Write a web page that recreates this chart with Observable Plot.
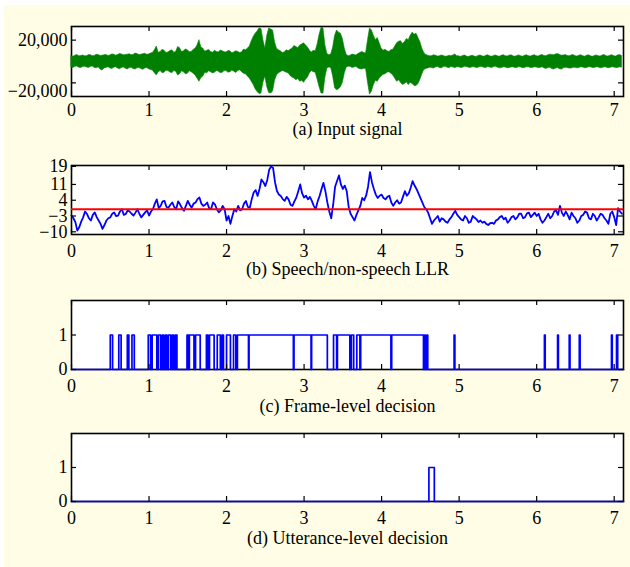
<!DOCTYPE html>
<html><head><meta charset="utf-8">
<script src="https://cdn.jsdelivr.net/npm/d3@7"></script>
<script src="https://cdn.jsdelivr.net/npm/@observablehq/plot@0.6"></script>
<style>
html,body{margin:0;padding:0;background:#fff;width:630px;height:567px;overflow:hidden;}
#bg{position:absolute;left:4px;top:5px;width:626px;height:562px;background:#fffde5;}
.panel{position:absolute;left:0;}
</style></head><body>
<div id="bg"></div>
<div id="pa" class="panel"></div>
<div id="pb" class="panel"></div>
<div id="pc" class="panel"></div>
<div id="pd" class="panel"></div>
<script>
// ---------- data ----------
const sampleStep = 0.025; // seconds between envelope / LLR samples
const xTicks = [0, 1, 2, 3, 4, 5, 6, 7];
const xMax = 7.12;

// (a) input signal envelope, thousands
const signalUpperK = [
  5.0,4.4,5.5,6.0,4.8,5.2,5.6,4.9,5.0,6.1,5.8,5.0,5.2,6.3,6.0,5.1,5.4,5.8,6.2,5.2,5.6,6.6,6.4,5.5,6.0,7.0,6.6,5.8,6.0,6.4,6.8,5.9,6.2,7.4,7.0,6.0,6.4,6.9,7.2,6.3,
  6.6,7.4,8.0,10.5,14.0,8.0,9.0,11.0,10.0,8.0,8.5,9.8,10.5,8.2,9.0,13.5,12.5,8.8,9.5,11.2,10.5,8.6,9.0,10.8,12.0,15.0,20.0,13.0,12.0,9.2,10.0,10.8,9.0,8.2,10.0,9.0,8.5,10.2,9.5,8.6,
  8.5,9.8,9.5,7.8,8.5,9.6,9.0,8.0,8.5,11.2,10.5,12.0,14.0,19.0,23.0,26.0,28.0,31.0,30.5,20.0,12.0,24.0,31.0,30.0,29.0,18.0,12.0,10.5,9.5,8.0,8.5,10.5,9.5,11.0,12.0,14.5,13.5,12.5,15.0,16.0,
  17.0,15.0,13.0,10.0,8.5,10.0,9.5,16.0,25.0,31.5,31.0,15.0,7.0,5.8,6.5,13.0,24.0,29.0,27.0,26.0,21.0,12.0,6.0,5.0,5.5,6.5,6.0,5.6,7.0,8.0,9.0,8.0,7.5,20.0,31.0,29.0,24.0,20.0,22.0,17.0,
  12.0,10.0,11.0,9.5,9.0,10.5,11.0,14.0,17.0,18.5,19.0,16.5,18.0,21.0,20.0,24.0,27.0,25.0,26.0,22.0,18.0,12.0,8.0,6.2,5.5,4.8,5.0,5.8,5.5,4.6,4.8,5.6,5.2,4.5,4.6,5.4,5.0,5.6,6.5,5.0,
  4.8,4.3,5.2,5.6,4.6,4.2,5.0,5.5,4.6,4.3,5.2,5.7,4.8,4.4,5.4,5.8,4.8,4.4,5.2,5.6,4.8,4.5,5.4,5.9,5.0,4.6,5.4,5.8,4.8,4.4,5.2,5.7,4.8,4.5,5.4,5.8,5.0,4.6,5.4,5.9,
  5.0,4.6,5.6,6.0,5.2,4.9,5.8,6.4,6.2,5.8,6.6,7.0,6.0,5.5,5.6,6.0,5.2,4.8,5.6,6.0,5.0,4.6,5.4,5.9,5.0,4.5,5.4,5.8,4.8,4.4,5.2,5.7,5.0,4.6,5.6,6.0,5.0,4.6,5.4,5.9,
  5.0,4.6,5.6,6.0,5.2
];
const signalLowerK = [
  -5.5,-6.0,-5.0,-4.6,-5.8,-6.2,-5.2,-4.8,-5.6,-6.1,-5.0,-4.7,-6.0,-6.4,-5.4,-7.5,-8.5,-6.5,-6.0,-5.4,-6.4,-7.0,-5.8,-5.4,-6.6,-7.2,-6.0,-5.5,-6.8,-7.4,-6.2,-5.8,-7.0,-7.6,-6.4,-6.0,-7.0,-7.8,-6.6,-6.2,
  -7.2,-8.0,-8.5,-11.0,-13.0,-10.0,-9.0,-11.0,-10.5,-8.6,-9.0,-10.2,-11.0,-9.0,-9.5,-13.0,-12.0,-9.2,-10.0,-12.0,-11.5,-9.2,-10.0,-11.5,-13.0,-16.0,-19.0,-15.5,-14.0,-10.5,-11.0,-9.2,-10.0,-11.2,-10.5,-8.8,-9.5,-11.0,-10.5,-9.0,
  -9.0,-10.5,-10.0,-8.4,-9.5,-10.8,-9.0,-8.2,-10.0,-11.5,-12.0,-14.0,-16.0,-19.0,-22.0,-26.0,-28.5,-30.5,-30.0,-20.0,-14.0,-24.0,-29.5,-30.0,-28.0,-18.0,-13.0,-11.0,-10.0,-8.8,-9.5,-10.5,-11.0,-13.5,-15.0,-16.0,-17.5,-16.5,-19.0,-18.0,
  -20.0,-17.0,-15.0,-11.0,-9.0,-10.0,-10.5,-17.0,-24.0,-30.0,-30.0,-15.0,-6.5,-5.6,-6.0,-14.0,-25.0,-27.0,-26.0,-24.0,-20.0,-11.0,-5.5,-4.8,-5.0,-6.0,-5.5,-5.0,-6.5,-7.2,-7.5,-6.8,-7.0,-20.0,-31.0,-28.0,-22.0,-18.0,-19.0,-16.0,
  -14.0,-12.5,-12.0,-10.5,-10.0,-11.5,-13.0,-16.0,-19.0,-17.5,-20.0,-22.0,-21.0,-19.5,-22.0,-20.0,-21.0,-23.0,-23.0,-21.0,-17.0,-12.0,-8.0,-7.0,-6.5,-5.8,-6.0,-6.6,-5.5,-5.0,-6.0,-6.5,-5.2,-4.8,-5.8,-6.3,-5.0,-5.6,-6.2,-5.4,
  -5.4,-6.0,-5.8,-5.0,-5.2,-5.8,-6.0,-5.3,-5.4,-6.1,-5.8,-5.0,-5.2,-5.9,-6.0,-5.2,-5.6,-6.2,-5.2,-4.8,-5.8,-6.4,-6.2,-5.4,-5.6,-6.3,-6.2,-5.5,-5.4,-6.1,-6.0,-5.2,-5.6,-6.3,-6.0,-5.3,-5.4,-6.0,-6.2,-5.4,
  -5.6,-6.2,-6.0,-5.4,-6.4,-7.0,-6.2,-5.8,-7.0,-7.5,-6.6,-6.2,-7.2,-7.6,-6.4,-5.9,-6.0,-6.6,-6.6,-5.8,-5.8,-6.4,-6.2,-5.4,-5.6,-6.3,-6.0,-5.3,-5.4,-6.1,-6.0,-5.3,-5.6,-6.3,-6.2,-5.4,-5.6,-6.3,-6.0,-5.4,
  -5.6,-6.2,-6.0,-5.4,-5.8
];
const signalTicks = [-20000, 20000];
const signalDomain = [-32768, 32768];

// (b) speech / non-speech LLR
const llrValues = [
  -2.8,-4.0,-5.7,-9.5,-8.0,-5.5,-3.6,-1.0,-2.1,-4.0,-5.0,-2.5,-1.4,-3.5,-5.0,-6.5,-8.7,-7.0,-5.0,-4.0,-3.6,-2.0,-1.4,-3.0,-2.8,-1.0,0.0,-2.5,-2.1,-0.5,-1.0,-2.0,-2.8,-1.5,0.0,-2.0,-3.6,-2.5,-1.4,-0.5,
  -2.8,-1.0,0.0,2.5,4.4,0.5,1.5,3.5,3.7,1.0,0.7,2.0,3.0,1.0,0.0,3.5,2.2,0.5,-0.7,1.5,3.7,2.0,0.7,2.5,3.0,4.5,5.2,2.5,1.5,2.0,3.0,0.5,0.0,3.0,2.2,0.0,-1.4,-0.5,1.5,0.0,
  -5.0,-3.0,-6.5,-3.0,0.0,-1.0,1.5,-0.5,0.0,2.5,3.7,1.0,0.7,4.5,7.4,8.5,5.9,9.0,13.2,12.0,10.3,13.0,17.5,19.0,18.3,12.0,8.1,6.5,5.9,4.5,3.7,5.5,4.4,2.0,1.5,3.5,5.2,8.0,11.0,7.0,
  5.2,6.0,4.4,5.5,3.7,1.5,0.0,3.5,5.9,9.0,11.7,8.0,3.0,-1.0,-4.0,2.0,10.0,12.5,15.0,11.0,9.0,10.5,8.0,1.0,-2.0,-3.5,-5.0,-2.5,-0.5,1.5,5.0,4.0,6.0,10.0,16.5,12.0,9.0,6.5,5.0,6.0,
  6.5,5.0,4.4,5.5,6.0,3.0,1.5,3.0,4.0,2.5,3.0,5.5,8.0,6.0,7.0,9.5,12.5,10.5,9.0,7.0,5.0,3.0,1.0,0.0,-1.5,-4.0,-6.5,-5.0,-4.0,-3.0,-5.5,-4.0,-4.5,-5.5,-6.0,-4.5,-3.5,-2.0,-0.7,-2.5,
  -3.5,-4.5,-5.0,-3.0,-4.0,-6.0,-5.5,-3.0,-3.8,-4.5,-5.7,-5.0,-6.0,-5.5,-6.5,-7.0,-6.2,-6.0,-6.5,-5.0,-4.5,-3.5,-3.0,-4.5,-3.8,-6.0,-5.0,-3.5,-3.0,-4.5,-3.6,-2.0,-2.0,-4.0,-3.5,-1.8,-1.5,-3.5,-2.5,-1.5,
  -3.0,-2.0,-4.5,-6.0,-5.0,-3.5,-2.0,-4.0,-3.0,-1.0,-0.5,-2.5,1.5,-1.5,-3.0,-1.0,-2.5,-4.5,-1.5,-3.0,-4.0,-6.0,-5.0,-3.0,-2.5,-1.0,-1.5,-4.0,-4.5,-2.0,-3.0,-5.0,-3.6,-2.0,-2.5,-4.0,-5.0,-6.5,-2.0,-1.0,
  -3.5,-7.0,0.5,-1.0,-2.0
];
const llrThreshold = [0];
const llrTicks = [-10, -3, 4, 11, 19];
const llrDomain = [-11.2, 19.4];

// (c) frame-level decision: intervals (s) where decision = 1
const frameOnIntervals = [
  [0.50,0.53],[0.61,0.64],[0.72,0.74],[0.78,0.81],
  [0.99,1.02],[1.04,1.10],[1.12,1.15],[1.17,1.19],[1.21,1.23],[1.25,1.28],[1.30,1.32],[1.34,1.36],
  [1.49,1.51],[1.52,1.58],[1.60,1.66],[1.74,1.76],[1.78,1.84],[1.88,1.92],[1.94,1.96],
  [2.00,2.05],[2.09,2.12],[2.14,2.283],[2.29,2.862],[2.87,3.09],[3.097,3.30],
  [3.38,3.42],[3.43,3.59],[3.61,3.64],[3.68,3.72],[3.73,4.12],[4.13,4.54],
  [4.555,4.565],[4.585,4.595],[4.935,4.945],
  [6.10,6.11],[6.27,6.28],[6.42,6.43],[6.55,6.56],[6.965,6.975],[7.03,7.045]
];
// (d) utterance-level decision
const uttOnIntervals = [[4.61, 4.68]];
const decisionTicks = [0, 1];
const decisionDomain = [0, 2];

const captions = [
  "(a) Input signal",
  "(b) Speech/non-speech LLR",
  "(c) Frame-level decision",
  "(d) Utterance-level decision"
];

// ---------- tables ----------
const nSig = Math.min(signalUpperK.length, signalLowerK.length);
const signalData = signalUpperK.slice(0, nSig).map((u, i) => ({t: i * sampleStep, hi: u * 1000, lo: signalLowerK[i] * 1000}));
const llrData = llrValues.map((v, i) => ({t: i * sampleStep, v}));
function stepSeries(intervals) {
  const pts = [{t: 0, v: 0}];
  for (const [s, e] of intervals) {
    pts.push({t: s, v: 0}, {t: s, v: 1}, {t: e, v: 1}, {t: e, v: 0});
  }
  pts.push({t: xMax, v: 0});
  return pts;
}

// ---------- panels ----------
const FONT = "Liberation Serif, Times New Roman, serif";
function panel(id, top, frameH, yDomain, yTicks, yFmt, marks, caption, tickPad, capDy, extraAxes) {
  const mt = 10, mb = 54, W = 630, ml = 71, mr = 7;
  const innerW = W - ml - mr;
  const tk = 5;
  const el = Plot.plot({
    width: W, height: mt + frameH + mb,
    marginTop: mt, marginBottom: mb, marginLeft: ml, marginRight: mr,
    style: {fontFamily: FONT, fontSize: "18px", background: "transparent", color: "black"},
    x: {domain: [0, xMax]},
    y: {domain: yDomain},
    marks: [
      Plot.frame({fill: "white", stroke: null}),
      Plot.frame({stroke: "black", strokeWidth: 1.6}),
      ...marks,
      Plot.tickX(xTicks, {x: d => d, insetTop: frameH - tk, stroke: "black", strokeWidth: 1.2}),
      Plot.tickX(xTicks, {x: d => d, insetBottom: frameH - tk, stroke: "black", strokeWidth: 1.2}),
      Plot.tickY(yTicks, {y: d => d, insetRight: innerW - tk, stroke: "black", strokeWidth: 1.2}),
      Plot.tickY(yTicks, {y: d => d, insetLeft: innerW - tk, stroke: "black", strokeWidth: 1.2}),
      Plot.axisX(xTicks, {tickSize: 0, tickPadding: tickPad, fontSize: 18, label: null}),
      ...(extraAxes || [Plot.axisY(yTicks, {tickSize: 0, tickPadding: 4, fontSize: 18, tickFormat: yFmt, label: null})]),
      Plot.text([caption], {text: d => d, frameAnchor: "bottom", dy: capDy, fontSize: 18})
    ]
  });
  const host = document.getElementById(id);
  host.style.top = (top - mt) + "px";
  host.appendChild(el);
}

const fmtComma = d3.format(",");
panel("pa", 26, 70, signalDomain, signalTicks, fmtComma, [
  Plot.areaY(signalData, {x: "t", y1: "lo", y2: "hi", fill: "#008000", stroke: "#008000", strokeWidth: 0.6})
], captions[0], 7, 38, [
  Plot.axisY([signalTicks[1]], {tickSize: 0, tickPadding: 4, fontSize: 18, tickFormat: fmtComma, label: null}),
  Plot.axisY([signalTicks[0]], {tickSize: 0, tickPadding: 4, fontSize: 18, tickFormat: fmtComma, label: null, dy: 8})
]);

panel("pb", 165, 69, llrDomain, llrTicks, d3.format("d"), [
  Plot.line(llrData, {x: "t", y: "v", stroke: "#0000ff", strokeWidth: 1.8}),
  Plot.ruleY(llrThreshold, {y: d => d, stroke: "#ff0000", strokeWidth: 2})
], captions[1], 10, 40);

panel("pc", 300, 69, decisionDomain, decisionTicks, d3.format("d"), [
  Plot.line(stepSeries(frameOnIntervals), {x: "t", y: "v", stroke: "#0000ff", strokeWidth: 1.7})
], captions[2], 9.5, 42);

panel("pd", 433, 68, decisionDomain, decisionTicks, d3.format("d"), [
  Plot.line(stepSeries(uttOnIntervals), {x: "t", y: "v", stroke: "#0000ff", strokeWidth: 1.7})
], captions[3], 10, 42);
</script>
</body></html>
